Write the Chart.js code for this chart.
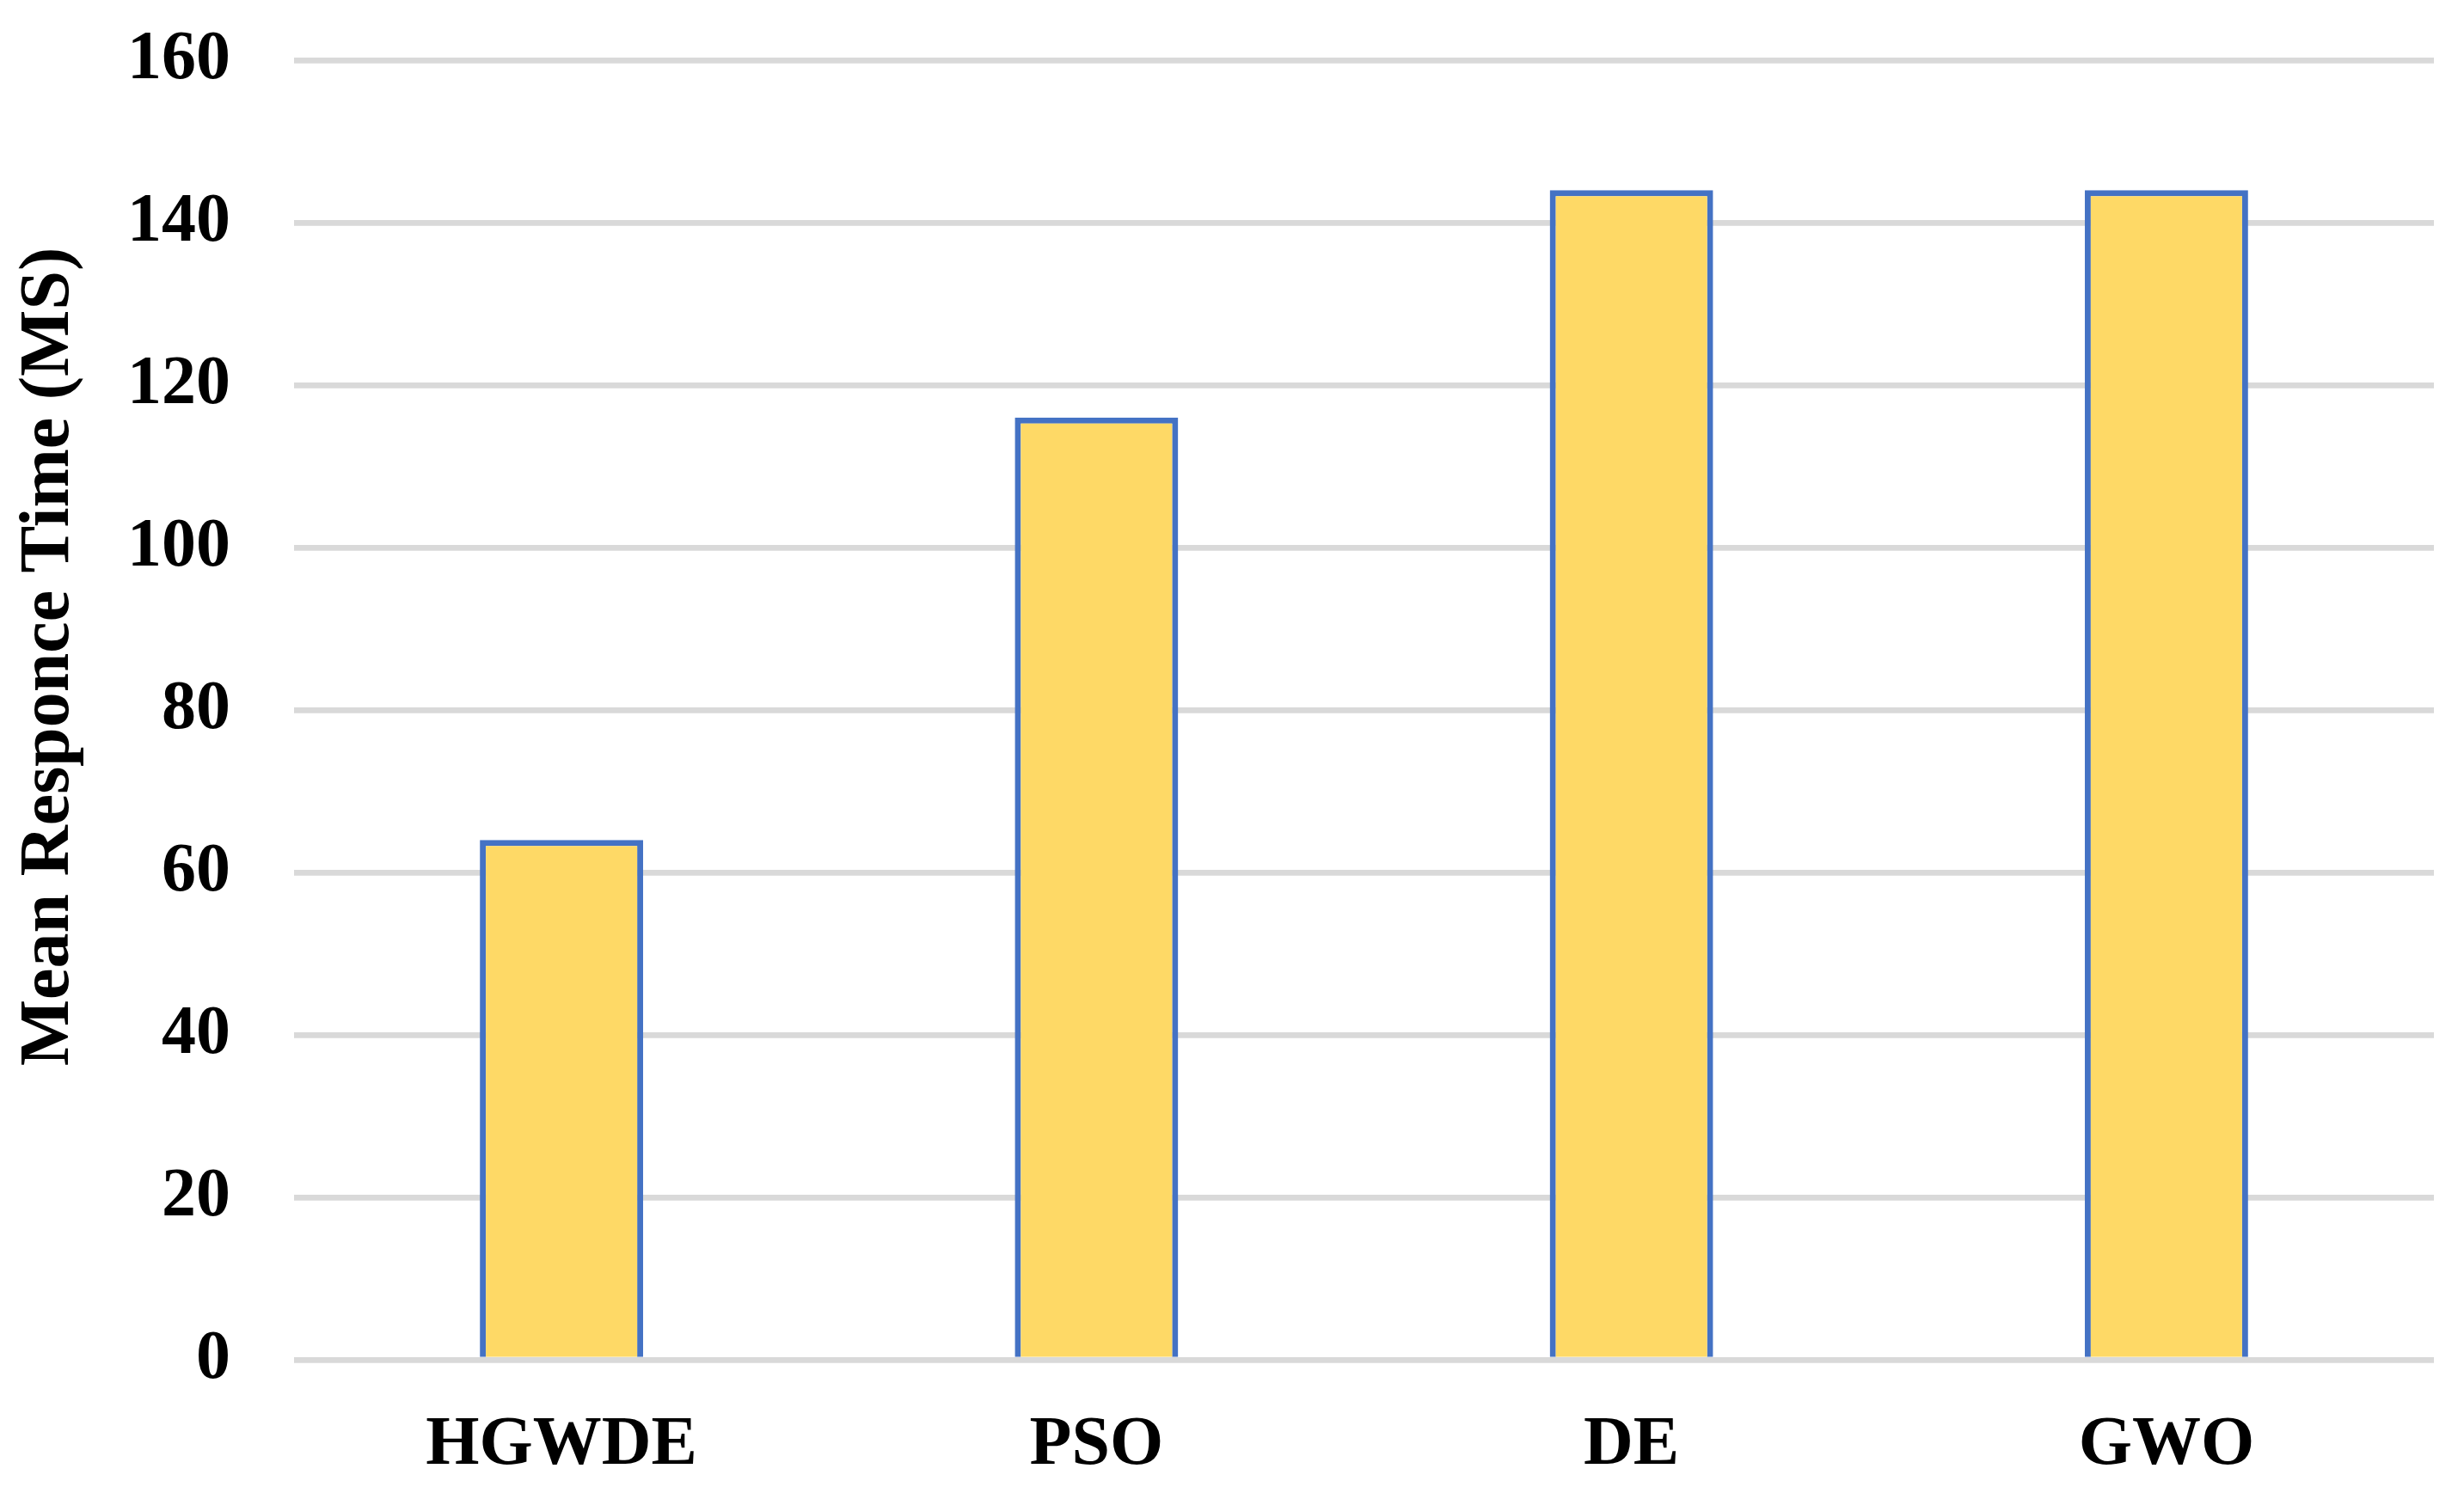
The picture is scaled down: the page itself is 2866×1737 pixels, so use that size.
<!DOCTYPE html>
<html>
<head>
<meta charset="utf-8">
<script src="https://cdn.jsdelivr.net/npm/chart.js@4/dist/chart.umd.min.js"></script>
<style>
  html, body { margin: 0; padding: 0; background: #ffffff; }
  canvas { display: block; }
</style>
</head>
<body>
<canvas id="c" width="2866" height="1737"></canvas>
<script>
const categories = ["HGWDE", "PSO", "DE", "GWO"];
const meanResponseTime = [64, 116, 144, 144];
const yTicks = [0, 20, 40, 60, 80, 100, 120, 140, 160];
const yAxisTitle = "Mean Responce Time (MS)";

const FONT = "'Liberation Serif', 'Times New Roman', serif";

const yTitlePlugin = {
  id: 'yTitle',
  afterDraw(chart) {
    const ctx = chart.ctx;
    const area = chart.chartArea;
    ctx.save();
    const cy = area.top + (area.bottom - area.top) * 0.459;
    ctx.translate(79, cy);
    ctx.rotate(-Math.PI / 2);
    ctx.font = "bold 82px " + FONT;
    ctx.fillStyle = "#000000";
    ctx.textAlign = "center";
    ctx.textBaseline = "alphabetic";
    ctx.fillText(yAxisTitle, 0, 0);
    ctx.restore();
  }
};

new Chart(document.getElementById('c'), {
  type: 'bar',
  data: {
    labels: categories,
    datasets: [{
      data: meanResponseTime,
      backgroundColor: '#FED966',
      borderColor: '#4472C4',
      borderWidth: 7,
      borderSkipped: 'start',
      barThickness: 190,
      inflateAmount: 0
    }]
  },
  options: {
    responsive: false,
    animation: false,
    devicePixelRatio: 1,
    layout: { padding: { left: 0, right: 35, top: 70, bottom: 0 } },
    plugins: {
      legend: { display: false },
      tooltip: { enabled: false },
      title: { display: false }
    },
    scales: {
      x: {
        grid: { display: false, drawTicks: false },
        border: { display: false },
        ticks: {
          color: '#000000',
          font: { family: FONT, size: 80, weight: 'bold' },
          padding: 52,
          maxRotation: 0,
          autoSkip: false
        },
        afterFit(scale) { scale.height = 1737 - 1582; scale.paddingLeft = 0; scale.paddingRight = 0; }
      },
      y: {
        min: 0,
        max: 160,
        afterBuildTicks(scale) { scale.ticks = yTicks.map(v => ({ value: v })); },
        grid: { color: '#D9D9D9', lineWidth: 6.7, drawTicks: false },
        border: { display: false },
        ticks: {
          color: '#000000',
          font: { family: FONT, size: 80, weight: 'bold' },
          padding: 74
        },
        afterFit(scale) { scale.width = 342; scale.paddingTop = 0; scale.paddingBottom = 0; }
      }
    }
  },
  plugins: [yTitlePlugin]
});
</script>
</body>
</html>
